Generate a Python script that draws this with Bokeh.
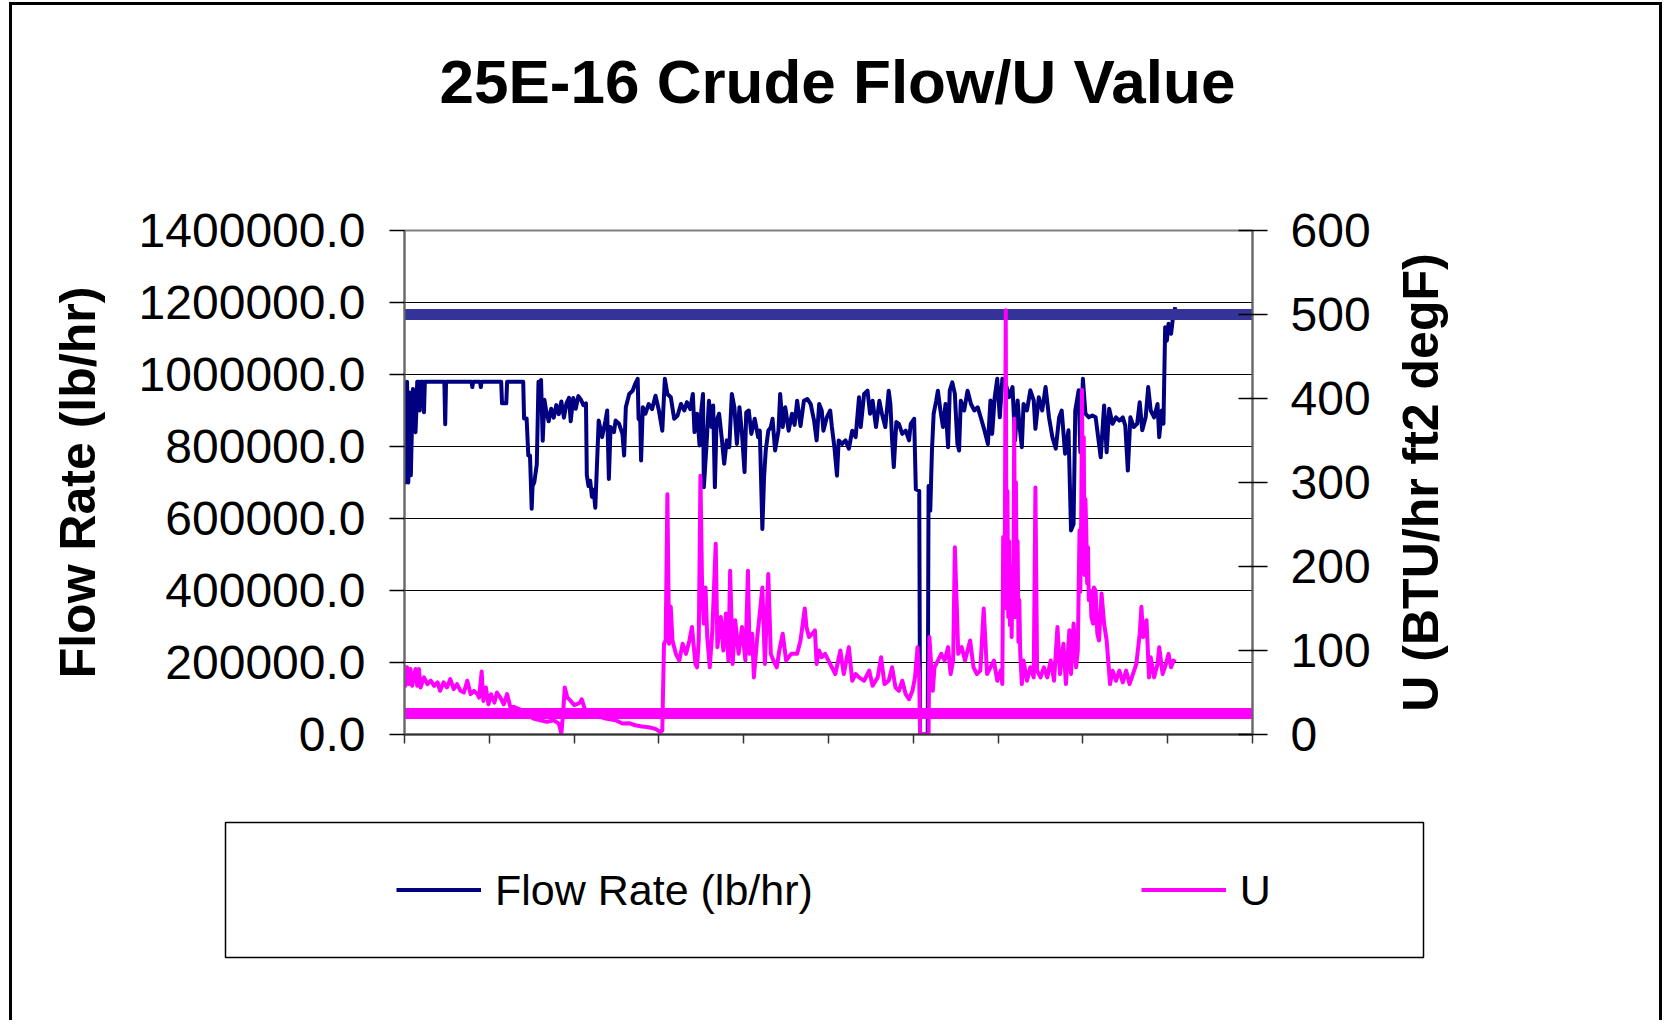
from bokeh.plotting import figure
from bokeh.layouts import column, row
from bokeh.models import (Range1d, LinearAxis, FixedTicker, NumeralTickFormatter,
                          CustomJSTickFormatter, Legend, LegendItem, Title)
from bokeh.embed import file_html
from bokeh.resources import INLINE

# ---------------- data ----------------
chart_title = "25E-16 Crude Flow/U Value"
flow_label = "Flow Rate (lb/hr)"
u_label = "U"
left_axis_title = "Flow Rate (lb/hr)"
right_axis_title = "U (BTU/hr ft2 degF)"

time_ticks = [0, 10, 20, 30, 40, 50, 60, 70, 80, 90, 100]
flow_ticks = [0, 200000, 400000, 600000, 800000, 1000000, 1200000, 1400000]
u_ticks = [0, 100, 200, 300, 400, 500, 600]

# (time, flow rate lb/hr)
flow_points = [
    (0.0, 980000), (0.1, 700000), (0.3, 980000), (0.45, 700000), (0.6, 950000), (0.75, 720000),
    (0.9, 880000), (1.0, 960000), (1.1, 850000), (1.3, 840000), (1.4, 900000), (1.5, 980000),
    (1.7, 980000), (1.8, 900000), (1.9, 980000), (2.2, 980000), (2.3, 895000), (2.4, 980000),
    (4.7, 980000), (4.8, 862000), (4.9, 980000), (7.9, 980000), (8.0, 965000), (8.1, 980000),
    (8.9, 980000), (9.0, 965000), (9.1, 980000), (11.4, 980000), (11.5, 920000), (12.0, 920000),
    (12.1, 980000), (14.0, 980000), (14.1, 878000), (14.4, 878000), (14.6, 775000), (14.8, 775000),
    (15.0, 627000), (15.1, 690000), (15.3, 700000), (15.6, 750000), (15.8, 980000), (16.0, 900000),
    (16.1, 985000), (16.3, 816000), (16.5, 930000), (16.7, 900000), (17.0, 870000), (17.3, 905000),
    (17.6, 880000), (17.9, 915000), (18.2, 890000), (18.5, 925000), (18.8, 880000), (19.1, 920000),
    (19.4, 935000), (19.6, 870000), (19.9, 935000), (20.2, 905000), (20.5, 940000), (20.8, 930000),
    (21.1, 915000), (21.4, 920000), (21.5, 720000), (21.7, 690000), (21.9, 705000), (22.1, 660000),
    (22.3, 680000), (22.5, 630000),
    (22.9, 872000), (23.3, 826000), (23.7, 872000), (23.9, 900000), (24.1, 710000), (24.3, 854000),
    (24.7, 840000), (24.9, 872000), (25.3, 863000), (25.7, 835000), (25.9, 775000), (26.1, 909000),
    (26.5, 946000), (26.9, 955000), (27.2, 974000), (27.5, 988000), (27.6, 877000), (27.8, 872000),
    (27.9, 761000), (28.1, 909000), (28.4, 891000), (28.8, 918000), (29.2, 904000), (29.6, 941000),
    (30.0, 900000), (30.4, 844000), (30.7, 988000), (31.0, 946000), (31.4, 937000), (31.8, 877000),
    (32.2, 886000), (32.6, 918000), (33.0, 900000), (33.3, 923000), (33.7, 904000), (34.0, 946000),
    (34.2, 840000), (34.5, 891000), (34.8, 803000), (35.0, 900000), (35.2, 946000), (35.3, 687000),
    (35.6, 798000), (35.9, 927000), (36.2, 854000), (36.4, 914000), (36.6, 687000), (36.8, 872000),
    (37.1, 891000), (37.4, 826000), (37.7, 752000), (38.0, 817000), (38.3, 798000), (38.6, 946000),
    (38.9, 909000), (39.2, 807000), (39.5, 909000), (39.8, 835000), (40.1, 729000), (40.3, 895000),
    (40.6, 900000), (40.9, 835000), (41.3, 877000), (41.7, 826000), (41.9, 844000), (42.2, 571000),
    (42.4, 714000), (42.6, 789000), (42.9, 844000), (43.2, 854000), (43.4, 877000), (43.7, 789000),
    (44.1, 844000), (44.3, 946000), (44.6, 854000), (44.9, 909000), (45.3, 844000), (45.7, 891000),
    (46.0, 860000), (46.3, 927000), (46.7, 857000), (47.1, 927000), (47.5, 932000), (47.9, 918000),
    (48.3, 872000), (48.6, 817000), (48.9, 918000), (49.2, 900000), (49.4, 844000), (49.8, 881000),
    (50.2, 900000), (50.4, 854000), (50.7, 798000), (51.0, 719000), (51.2, 817000), (51.6, 807000),
    (52.0, 817000), (52.4, 794000), (52.8, 844000), (53.2, 826000), (53.6, 937000), (53.8, 854000),
    (54.2, 946000), (54.6, 955000), (54.9, 891000), (55.2, 927000), (55.6, 854000), (56.0, 927000),
    (56.3, 891000), (56.7, 854000), (57.1, 955000), (57.3, 918000), (57.5, 817000), (57.7, 743000),
    (58.0, 868000), (58.3, 863000), (58.7, 835000), (59.1, 844000), (59.5, 817000), (59.7, 863000),
    (60.1, 877000), (60.3, 681000), (60.7, 677000), (60.8, 0), (61.7, 0), (61.8, 690000),
    (62.0, 622000), (62.2, 789000), (62.4, 891000), (62.7, 927000), (62.9, 955000), (63.2, 900000),
    (63.5, 854000), (63.8, 918000), (64.1, 798000), (64.3, 955000), (64.6, 978000), (64.9, 946000),
    (65.2, 807000), (65.4, 789000), (65.6, 927000), (66.0, 900000), (66.4, 955000), (66.8, 918000),
    (67.2, 900000), (67.6, 909000), (68.0, 877000), (68.4, 844000),
    (68.8, 807000), (69.1, 928000), (69.3, 835000), (69.6, 937000), (69.9, 988000), (70.2, 881000),
    (70.5, 988000), (70.9, 974000), (71.3, 937000), (71.7, 965000), (72.0, 817000), (72.3, 928000),
    (72.5, 863000), (72.8, 798000), (73.0, 918000), (73.4, 900000), (73.8, 956000), (74.2, 928000),
    (74.4, 849000), (74.8, 937000), (75.2, 900000), (75.6, 965000), (76.0, 881000), (76.4, 826000),
    (76.8, 794000), (77.2, 881000), (77.5, 900000), (77.9, 780000), (78.3, 845000), (78.6, 567000),
    (78.9, 585000), (79.1, 900000), (79.5, 956000), (79.7, 784000), (80.0, 988000), (80.3, 891000),
    (80.7, 881000), (81.1, 886000), (81.5, 881000), (82.1, 770000), (82.5, 914000), (82.8, 784000),
    (83.1, 905000), (83.5, 863000), (83.9, 881000), (84.3, 872000), (84.7, 881000), (85.0, 858000),
    (85.3, 733000), (85.6, 881000), (86.0, 854000), (86.4, 863000), (86.7, 923000), (87.0, 845000),
    (87.4, 881000), (87.7, 965000), (88.0, 900000), (88.4, 881000), (88.8, 918000), (89.0, 826000),
    (89.3, 900000), (89.5, 863000), (89.7, 1131000), (89.9, 1094000), (90.1, 1141000), (90.4, 1113000),
    (90.6, 1155000), (90.9, 1187000),
]

# (time, U in BTU/hr ft2 degF)
u_points = [
    (0.0, 60), (0.1, 58), (0.3, 80), (0.5, 60), (0.7, 78), (0.9, 58), (1.3, 78), (1.5, 58),
    (1.7, 78), (1.9, 56), (2.3, 68), (2.7, 60), (3.1, 64), (3.5, 58), (3.9, 62), (4.2, 52),
    (4.6, 62), (5.0, 56), (5.4, 66), (5.8, 54), (6.2, 60), (6.6, 52), (7.0, 50), (7.4, 64),
    (7.8, 48), (8.2, 52), (8.6, 48), (8.8, 44), (9.1, 75), (9.3, 40), (9.6, 56), (9.9, 36),
    (10.2, 48), (10.6, 38), (10.9, 50), (11.3, 44), (11.7, 36), (12.1, 48), (12.5, 32), (12.9, 33),
    (13.3, 31), (13.8, 29), (14.4, 25), (15.2, 19), (16.0, 17), (16.8, 15), (17.6, 17), (18.2, 13),
    (18.5, 1), (18.7, 25), (18.9, 56), (19.2, 44), (19.6, 40), (20.0, 35), (20.3, 36), (20.7, 38),
    (20.9, 42), (21.3, 29), (21.9, 23), (22.5, 21), (23.1, 21),
    (23.7, 19), (24.9, 17), (25.7, 13), (26.5, 13.5), (27.2, 11), (28.0, 9.5), (28.8, 8.7),
    (29.6, 6.7), (30.2, 2.8), (30.4, 4.8), (30.6, 108), (30.8, 112), (31.0, 286), (31.2, 108),
    (31.4, 152), (31.6, 112), (32.0, 96), (32.4, 88), (32.8, 108), (33.2, 96), (33.6, 112),
    (33.9, 128), (34.3, 84), (34.5, 80), (34.7, 112), (34.9, 308), (35.1, 171), (35.3, 132),
    (35.5, 175), (35.7, 116), (36.0, 80), (36.3, 124), (36.7, 227), (36.9, 104), (37.3, 140),
    (37.6, 100), (37.9, 144), (38.2, 88), (38.4, 195), (38.7, 84), (39.0, 136), (39.4, 96),
    (39.8, 128), (40.2, 88), (40.5, 195), (40.7, 96), (41.0, 120), (41.2, 68), (41.6, 116),
    (41.9, 144), (42.2, 175), (42.5, 84), (42.9, 191), (43.2, 96), (43.5, 88), (43.9, 80),
    (44.2, 100), (44.6, 120), (45.0, 88), (45.6, 96),
    (46.3, 96), (46.7, 112), (47.2, 150), (47.4, 128), (47.7, 116), (48.1, 120), (48.4, 124),
    (48.6, 84), (48.9, 100), (49.2, 92), (49.6, 96), (50.0, 88), (50.4, 80), (50.8, 72),
    (51.4, 100), (51.8, 72), (52.4, 104), (52.8, 64), (53.2, 72), (53.6, 68), (54.2, 64),
    (54.8, 76), (55.2, 58), (55.8, 68), (56.2, 92), (56.6, 60), (57.1, 64), (57.5, 80),
    (57.9, 56), (58.3, 52), (58.7, 64), (59.1, 48), (59.5, 42), (59.9, 52), (60.2, 68),
    (60.5, 104), (60.7, 68), (60.8, 0), (61.8, 0), (61.9, 116), (62.3, 52), (62.5, 80),
    (62.9, 88), (63.3, 96), (63.7, 88), (64.1, 104), (64.4, 72), (64.7, 88), (64.9, 223),
    (65.1, 161), (65.3, 96), (65.7, 104), (66.1, 88), (66.7, 112), (67.1, 80), (67.5, 72),
    (67.9, 76), (68.3, 150),
    (68.7, 72), (69.1, 80), (69.5, 88), (69.9, 64), (70.3, 76), (70.5, 60), (70.6, 235),
    (70.7, 160), (70.8, 240), (70.9, 505), (71.0, 150), (71.1, 290), (71.2, 140), (71.3, 230),
    (71.4, 130), (71.5, 200), (71.6, 116), (71.7, 190), (71.8, 150), (71.9, 376), (72.0, 140),
    (72.1, 300), (72.2, 170), (72.3, 230), (72.4, 110), (72.5, 160), (72.6, 100), (72.8, 60),
    (73.0, 88), (73.4, 64), (73.8, 80), (74.2, 68), (74.4, 294), (74.6, 76), (75.0, 68),
    (75.4, 80), (75.8, 68), (76.2, 88), (76.6, 64), (77.0, 128), (77.3, 72), (77.7, 108),
    (78.0, 60), (78.4, 124), (78.6, 72), (78.9, 132), (79.2, 80), (79.4, 100), (79.6, 243),
    (79.7, 170), (79.8, 260), (79.9, 410), (80.0, 200), (80.1, 354), (80.2, 190), (80.3, 280),
    (80.4, 243), (80.5, 180), (80.6, 223), (80.7, 160), (80.9, 171), (81.0, 140), (81.2, 132),
    (81.3, 175), (81.5, 171), (81.7, 120), (81.9, 112), (82.2, 168), (82.5, 132), (82.8, 112),
    (83.2, 60), (83.5, 76), (83.9, 64), (84.3, 76), (84.7, 62), (85.1, 76), (85.5, 60),
    (85.9, 72), (86.3, 84), (86.7, 120), (86.9, 152), (87.1, 116), (87.5, 136), (87.8, 68),
    (88.0, 92), (88.4, 68), (88.8, 84), (89.0, 104), (89.4, 72), (89.8, 84), (90.1, 96),
    (90.4, 80), (90.7, 88), (90.9, 86),
]

limit_t = [0, 100]
u_upper_limit = [500, 500]
u_lower_limit = [25, 25]

flow_t = [pt[0] for pt in flow_points]
flow_rate = [pt[1] for pt in flow_points]
u_t = [pt[0] for pt in u_points]
u_value = [pt[1] for pt in u_points]

# ---------------- styling constants ----------------
FONT = "Liberation Sans"
FLOW_COLOR = "#000080"
U_COLOR = "#FF00FF"
LINE_W = 4
TITLE_H = 130
TOP_H = 670
LEG_H = 215
MAIN_W = 1378
RT_W = 269
FULL_W = MAIN_W + RT_W
STRIP_LEFT = 213          # left edge of the legend box (also used by the title strip)
STRIP_RIGHT = 236


def bare(fig):
    fig.outline_line_color = None
    fig.grid.visible = False
    fig.background_fill_color = "white"
    fig.border_fill_color = "white"


# ---------------- title strip ----------------
title_fig = figure(width=FULL_W, height=TITLE_H, output_backend="svg", toolbar_location=None,
                   x_range=Range1d(0, 1), y_range=Range1d(0, 1),
                   x_axis_location=None, y_axis_location=None,
                   min_border_left=STRIP_LEFT, min_border_right=STRIP_RIGHT,
                   min_border_top=115, min_border_bottom=TITLE_H - 116)
bare(title_fig)
title_fig.title.text = chart_title
title_fig.title.text_font = FONT
title_fig.title.text_font_size = "62px"
title_fig.title.text_font_style = "bold"
title_fig.title.text_color = "black"
title_fig.title.align = "left"
title_fig.title.offset = 214
title_fig.title.standoff = 10

# ---------------- main chart ----------------
p = figure(width=MAIN_W, height=TOP_H, output_backend="svg", toolbar_location=None,
           x_range=Range1d(0, 100), y_range=Range1d(0, 1400000),
           min_border_left=392, min_border_right=138, min_border_top=95, min_border_bottom=71)
p.title = None
p.extra_y_ranges = {"u": Range1d(0, 600)}
p.background_fill_color = "white"
p.border_fill_color = "white"
p.outline_line_color = "#808080"
p.outline_line_width = 2

xa = p.xaxis[0]
xa.ticker = FixedTicker(ticks=time_ticks)
xa.formatter = CustomJSTickFormatter(code="return ''")
xa.axis_line_color = "#333333"
xa.axis_line_width = 2
xa.major_tick_line_color = "#333333"
xa.major_tick_line_width = 1.5
xa.major_tick_out = 9
xa.major_tick_in = 0
xa.minor_tick_line_color = None
p.xgrid.visible = False

ya = p.yaxis[0]
ya.ticker = FixedTicker(ticks=flow_ticks)
ya.formatter = NumeralTickFormatter(format="0.0")
ya.axis_label = left_axis_title
ya.axis_label_text_font = FONT
ya.axis_label_text_font_size = "50px"
ya.axis_label_text_font_style = "bold"
ya.axis_label_text_color = "black"
ya.axis_label_standoff = 30
ya.major_label_text_font = FONT
ya.major_label_text_font_size = "48px"
ya.major_label_text_color = "black"
ya.major_label_standoff = 24
ya.axis_line_color = "#666666"
ya.axis_line_width = 2
ya.major_tick_line_color = "black"
ya.major_tick_line_width = 1.5
ya.major_tick_out = 15
ya.major_tick_in = 0
ya.minor_tick_line_color = None
p.ygrid.ticker = FixedTicker(ticks=flow_ticks)
p.ygrid.grid_line_color = "black"
p.ygrid.grid_line_width = 1

ra = LinearAxis(y_range_name="u", ticker=FixedTicker(ticks=u_ticks),
                formatter=NumeralTickFormatter(format="0"))
ra.major_label_text_font = FONT
ra.major_label_text_font_size = "48px"
ra.major_label_text_color = "black"
ra.major_label_standoff = 23
ra.axis_line_color = "#666666"
ra.axis_line_width = 2
ra.major_tick_line_color = "black"
ra.major_tick_line_width = 1.5
ra.major_tick_out = 15
ra.major_tick_in = 14
ra.minor_tick_line_color = None
p.add_layout(ra, "right")

# drawing order: flow, upper limit, U, lower limit
flow_r = p.line(flow_t, flow_rate, line_color=FLOW_COLOR, line_width=LINE_W, line_join="round")
p.line(limit_t, u_upper_limit, y_range_name="u", line_color="#333399", line_width=11)
u_r = p.line(u_t, u_value, y_range_name="u", line_color=U_COLOR, line_width=LINE_W, line_join="round")
p.line(limit_t, u_lower_limit, y_range_name="u", line_color=U_COLOR, line_width=11)

# ---------------- right-hand axis title (reads bottom to top) ----------------
p_rt = figure(width=RT_W, height=TOP_H, output_backend="svg", toolbar_location=None,
              x_range=Range1d(0, 1), y_range=Range1d(0, 1),
              x_axis_location=None, y_axis_location=None,
              min_border_left=58, min_border_right=0, min_border_top=95, min_border_bottom=71)
bare(p_rt)
p_rt.title = None
p_rt.add_layout(Title(text=right_axis_title, align="center", text_font=FONT,
                      text_font_size="50px", text_font_style="bold", text_color="black",
                      standoff=0), "left")

# ---------------- legend strip ----------------
leg = figure(width=FULL_W, height=LEG_H, output_backend="svg", toolbar_location=None,
             x_range=Range1d(0, 100), y_range=Range1d(-2, -1),
             x_axis_location=None, y_axis_location=None,
             min_border_left=STRIP_LEFT, min_border_right=STRIP_RIGHT,
             min_border_top=17, min_border_bottom=63)
leg.background_fill_color = "white"
leg.border_fill_color = "white"
leg.outline_line_color = "black"
leg.outline_line_width = 1.5
leg.grid.visible = False
# key renderers reuse the series (all values lie outside this strip's range, so only the keys show)
flow_key = leg.line(flow_t, flow_rate, line_color=FLOW_COLOR, line_width=LINE_W)
u_key = leg.line(u_t, u_value, line_color=U_COLOR, line_width=LINE_W)
legend = Legend(items=[LegendItem(label=flow_label, renderers=[flow_key]),
                       LegendItem(label=u_label, renderers=[u_key])],
                orientation="horizontal", location="left", padding=0, margin=171,
                spacing=328, glyph_width=85, glyph_height=20, label_standoff=14,
                label_text_font=FONT, label_text_font_size="43px", label_text_color="black",
                border_line_alpha=0, background_fill_alpha=0)
leg.add_layout(legend, "center")

layout = column(title_fig, row(p, p_rt), leg)
layout.styles = {"margin-left": "9px", "margin-top": "2px",
                 "border-top": "3px solid black", "border-left": "3px solid black",
                 "border-right": "3px solid black", "background": "white"}

open("out.html", "w").write(file_html(layout, INLINE))
